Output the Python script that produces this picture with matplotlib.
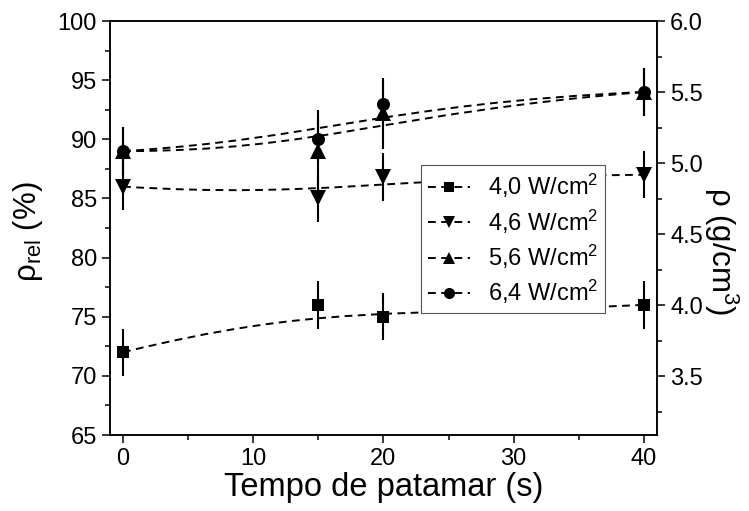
import matplotlib
matplotlib.use("Agg")
import matplotlib.pyplot as plt
from matplotlib.path import Path
from matplotlib.patches import PathPatch
from matplotlib.lines import Line2D
from matplotlib.ticker import MultipleLocator, FormatStrFormatter

plt.rcParams["font.family"] = ["Liberation Sans", "DejaVu Sans"]
plt.rcParams["mathtext.fontset"] = "custom"
plt.rcParams["mathtext.rm"] = "Liberation Sans"
plt.rcParams["mathtext.it"] = "Liberation Sans:italic"

# ---------------------------------------------------------------------
#  Data
# ---------------------------------------------------------------------
tempo = [0, 15, 20, 40]

labels = [r"4,0 W/cm$^2$", r"4,6 W/cm$^2$", r"5,6 W/cm$^2$", r"6,4 W/cm$^2$"]
markers = ["s", "v", "^", "o"]
msizes = [8.6, 11, 11, 9.4]

rho_40 = [72, 76, 75, 76]
rho_46 = [86, 85, 86.8, 87]
rho_56 = [89, 89, 92.2, 94]
rho_64 = [89, 90, 93, 94]

err_40 = [2, 2, 2, 2]
err_46 = [2, 2, 2, 2]
err_56 = [2, 3.5, 3, 2]
err_64 = [2, 2, 2, 2]

series = [rho_40, rho_46, rho_56, rho_64]
errors = [err_40, err_46, err_56, err_64]

fig = plt.figure(figsize=(7.49, 5.11), dpi=100)
ax = fig.add_axes([0.1469, 0.1487, 0.877 - 0.1469, 0.9589 - 0.1487])

dash = (0, (4, 2.8))
lw = 1.4

for y, e, m, ms in zip(series, errors, markers, msizes):
    # B-spline style connection (data points as control points)
    verts = list(zip(tempo, y))
    codes = [Path.MOVETO, Path.CURVE4, Path.CURVE4, Path.CURVE4]
    patch = PathPatch(Path(verts, codes), facecolor="none", edgecolor="black",
                      linewidth=lw, linestyle=dash, zorder=2)
    ax.add_patch(patch)
    ax.errorbar(tempo, y, yerr=e, fmt="none", ecolor="black",
                elinewidth=1.5, capsize=0, zorder=3)
    ax.plot(tempo, y, linestyle="none", marker=m, markersize=ms,
            color="black", markeredgewidth=0, zorder=4)

ax.set_xlim(-1, 41)
ax.set_ylim(65, 100)
ax.xaxis.set_major_locator(MultipleLocator(10))
ax.xaxis.set_minor_locator(MultipleLocator(5))
ax.yaxis.set_major_locator(MultipleLocator(5))
ax.yaxis.set_minor_locator(MultipleLocator(2.5))

ax.set_xlabel("Tempo de patamar (s)", fontsize=23.5, labelpad=1)
ax.set_ylabel(r"ρ$_{\mathrm{rel}}$ (%)", fontsize=22.5)
ax.yaxis.set_label_coords(-0.119, 0.49)

ax.tick_params(which="both", direction="out", width=1.1, labelsize=17,
               top=False, right=False)
ax.tick_params(which="major", length=6)
ax.tick_params(which="minor", length=3.5)
for sp in ax.spines.values():
    sp.set_linewidth(1.1)

# density axis on the right
ax2 = ax.twinx()
ax2.set_ylim(3.085, 6.0)
ax2.yaxis.set_major_locator(MultipleLocator(0.5))
ax2.yaxis.set_minor_locator(MultipleLocator(0.25))
ax2.yaxis.set_major_formatter(FormatStrFormatter("%.1f"))
ax2.tick_params(which="both", direction="out", width=1.1, labelsize=17)
ax2.tick_params(which="major", length=6)
ax2.tick_params(which="minor", length=3.5)
ax2.set_ylabel(r"ρ (g/cm$^3$)", fontsize=22.5, rotation=270, va="bottom")
ax2.yaxis.set_label_coords(1.083, 0.443)
for sp in ax2.spines.values():
    sp.set_linewidth(1.1)

handles = [Line2D([], [], color="black", linewidth=lw, linestyle=dash,
                  marker=m, markersize=ms * 0.85, markeredgewidth=0)
           for m, ms in zip(markers, msizes)]
leg = ax.legend(handles, labels, loc="upper left",
                bbox_to_anchor=(0.568, 0.652), fontsize=17,
                frameon=True, fancybox=False, edgecolor="#555555",
                framealpha=1, handlelength=1.8, handletextpad=0.75,
                labelspacing=0.3, borderpad=0.3, borderaxespad=0)
leg.get_frame().set_linewidth(0.8)

fig.savefig("out.png", dpi=100)
